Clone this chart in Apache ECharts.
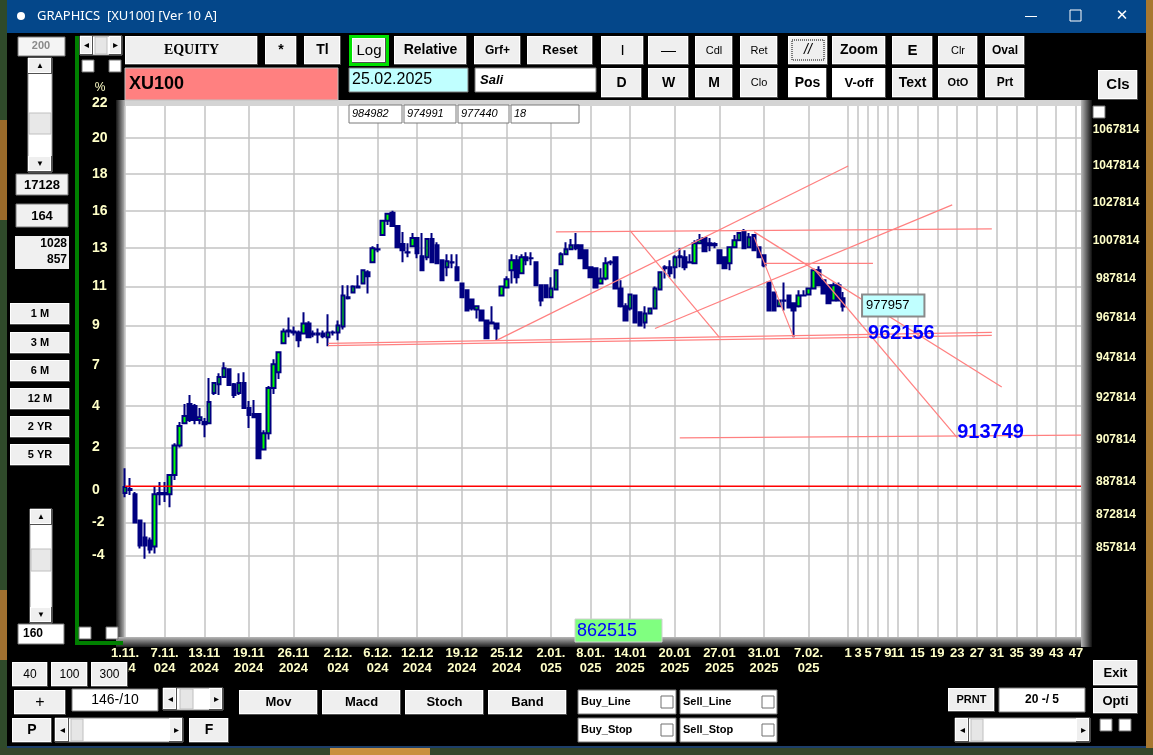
<!DOCTYPE html>
<html><head><meta charset="utf-8">
<script src="https://cdn.jsdelivr.net/npm/echarts/dist/echarts.min.js"></script>
<style>html,body{margin:0;padding:0;background:#000;overflow:hidden}#c{width:1153px;height:755px}</style>
</head><body><div id="c"></div>
<script>
// ---------------- DATA ----------------
const barOpen = [886400,888300,885900,873700,866000,864600,861900,886400,886400,885900,
894800,908800,919500,928800,927800,921000,920000,919500,934200,938500,
942000,945900,938500,934200,939000,926800,923900,923900,906900,914600,
936600,944400,958800,965300,964800,964300,963800,968800,963800,963800,
963800,961800,964300,964300,967300,982200,984700,987300,989400,995200,
1000400,1007300,1014800,1022400,1026700,1019700,1010000,1005700,1008900,1013200,
1003600,1003100,1012700,1009400,1001500,997800,1000400,997800,989400,985800,
981100,976000,975500,970400,968800,968800,983200,987300,996200,1001500,
994700,1003100,1002600,1000400,988400,988400,982200,986300,999400,1004700,
1007300,1009400,1009400,1006800,997800,997300,989400,992000,1000400,1003100,
986800,977600,976500,983200,974500,969300,973900,976500,986300,997800,
997800,997800,1003100,1003100,1000400,999900,1010500,1013200,1010500,1010000,
1006800,1003100,999900,1008300,1012100,1016500,1008300,1014800,1008300,1004100,
989900,984700,977600,980600,983200,979100,977600,983200,983700,986800,
996200,991000,988400,980600,988400,981700];
const barClose = [889200,887800,872800,862300,862300,860500,885900,885900,885900,894800,
908800,918100,922900,921000,921000,922400,919000,929800,939000,942000,
946400,938100,933200,939000,926800,923400,922400,902700,914600,936600,
948300,954300,964800,964800,964300,960300,968800,961800,963300,963300,
962300,964300,964200,967800,983200,981700,987800,987800,996200,993100,
1007800,1007200,1022400,1026200,1019700,1008300,1006800,1005600,1013200,1005200,
996200,1012700,1000400,999900,991000,1001000,1000300,991000,982200,975500,
976500,977600,970400,961300,969300,966300,987800,991500,1001500,992600,
1003100,1001500,1002500,988400,980600,982200,986800,996200,1004700,1007300,
1009400,1007800,1002600,997300,992600,987300,992000,999900,1000300,986800,
977600,970400,983700,969300,967800,973900,976500,986800,995200,997300,
994700,1003100,1003600,997800,1000300,1010500,1012100,1006200,1009400,1009400,
999900,997300,1008300,1012100,1015900,1007800,1013700,1006800,1003100,998900,
975500,975500,980600,980500,977000,975500,983200,983100,986800,996200,
988400,984200,979100,988400,980600,977440];
const barLow = [884500,885500,872400,861000,856400,858700,858700,880800,882200,879800,
892500,907800,919000,920000,919000,919000,912700,919000,933200,933200,
941500,937600,931700,933200,926600,917100,922200,902500,906700,911700,
933700,941000,958300,961800,962800,956800,963300,961600,961800,958800,
961300,957300,962800,960300,965800,981100,984500,986800,989200,984200,
1000200,1005700,1014600,1020200,1019200,1007800,1000400,1003100,1008300,1002600,
996000,1001500,1000200,999700,990800,993100,997300,990800,982000,975300,
975500,971400,970200,961100,968600,960300,983000,987100,989400,989400,
994500,998900,998900,988200,977600,981700,982000,986100,998900,1004100,
1006800,1006800,1002400,997100,992400,987100,989200,991000,998900,986600,
977000,970200,975500,969100,967600,966300,973500,976300,986100,992000,
992600,992000,997800,996200,999900,999700,1010300,1006000,1006200,1007800,
999700,997100,996200,1007800,1011600,1007600,1007800,1006600,1002900,997800,
975300,975300,977400,975500,976800,961800,977000,982700,983200,986600,
988200,984000,978900,980400,980400,974991];
const barHigh = [898000,893400,886900,874000,872800,866000,889200,891500,891500,895000,
909800,920000,928800,933200,928800,926800,922000,941500,939200,943900,
949300,946400,939000,943900,944400,930200,930700,924400,916100,937600,
950800,954500,966300,971900,967300,965300,974500,969900,965300,966300,
965300,973500,965300,970400,988400,988400,988400,993600,996400,996200,
1008900,1010000,1022900,1026700,1027800,1020200,1016500,1010500,1015900,1013400,
1015900,1012900,1015900,1011000,1001700,1004700,1004700,1004700,989600,986000,
981300,977800,975700,970600,977600,969000,988000,993100,1004700,1004100,
1004700,1005700,1005700,1000600,988600,988600,992600,996400,1005700,1011000,
1012700,1015900,1009600,1007000,998000,997500,997300,1003100,1001500,1003300,
991000,979100,984200,983400,974700,977600,976700,987800,995400,998900,
1001500,1004100,1007800,1006800,1004700,1012100,1015400,1013400,1013200,1011000,
1007000,1003300,1008500,1014800,1016500,1018100,1015900,1015000,1008500,1004300,
990100,984900,980800,989900,983400,979300,985800,985800,987000,996400,
998300,991200,988600,989900,989900,984982];

const slotCount = 194;
const labelIndex = [0,8,16,25,34,43,51,59,68,77,86,94,102,111,120,129,138,
  146,148,150,152,154,156,160,164,168,172,176,180,184,188,192];
const labelText = ['1.11.\n024','7.11.\n024','13.11\n2024','19.11\n2024','26.11\n2024','2.12.\n024',
  '6.12.\n024','12.12\n2024','19.12\n2024','25.12\n2024','2.01.\n025','8.01.\n025','14.01\n2025',
  '20.01\n2025','27.01\n2025','31.01\n2025','7.02.\n025',
  '1','3','5','7','9','11','15','19','23','27','31','35','39','43','47'];

const gridValues = [1067814,1047814,1027814,1007814,987814,967814,947814,927814,907814,887814,872814,857814];
const pctLabels = ['20','18','16','13','11','9','7','4','2','0','-2','-4'];

const trendLines = [
  [[41,958800],[175,964300]],
  [[41,957600],[175,962800]],
  [[75,960300],[146,1052200]],
  [[107,966300],[167,1031000]],
  [[87,1016500],[175,1018100]],
  [[129,999900],[151,999900]],
  [[102,1017000],[120,961800]],
  [[127,1013700],[135,961800]],
  [[127,1016500],[177,937100]],
  [[139,997300],[168,912500]],
  [[112,912400],[193,913700]]
];
const zeroLine = 889600;
const lineLabels = [[150,962156],[168,913749]];
const cursorValue = [149,977957];

// ---------------- BUILD ----------------
const categories = Array.from({length: slotCount}, (_, i) => String(i));
const labelMap = {};
labelIndex.forEach((k, j) => { labelMap[k] = labelText[j]; });
const candleData = barOpen.map((o, i) => [o, barClose[i], barLow[i], barHigh[i]]);

const SANS = '"Liberation Sans", Arial, sans-serif';
const G = [];
function R(x,y,w,h,fill,stroke,lw,z){G.push({type:'rect',silent:true,z:z==null?100:z,shape:{x:x,y:y,width:w,height:h},style:{fill:fill,stroke:stroke||null,lineWidth:lw||0}});}
function T(x,y,s,font,color,align,z){G.push({type:'text',silent:true,z:z==null?101:z,x:x,y:y,style:{text:s,font:font,fill:color||'#000',align:align||'center',verticalAlign:'middle'}});}
function B(x,y,w,h,s,font,fill,color){R(x,y,w,h,'#505050');R(x,y,w-1,h-1,'#ffffff');R(x+1,y+1,w-3,h-3,fill||'#efefef');if(s!=null)T(x+w/2,y+h/2,s,font||('bold 13px '+SANS),color);}
function BOX(x,y,w,h,fill){R(x,y,w,h,fill,'#7a7a7a',1);}
function CB(x,y){R(x,y,12,12,'#ffffff','#707070',1);}
function grad(horizontal,c1,c2){return {type:'linear',x:0,y:0,x2:horizontal?1:0,y2:horizontal?0:1,colorStops:[{offset:0,color:c1},{offset:1,color:c2}]};}

// wallpaper + window chrome
R(0,0,7,755,'#2f4a2a',null,0,-20);
R(0,120,7,100,'#9a6a2a',null,0,-19); R(0,590,7,70,'#a07030',null,0,-19);
R(1146,0,7,755,'#a87830',null,0,-20);
R(0,748,1153,7,'#34462a',null,0,-20); R(330,748,100,7,'#c89040',null,0,-19);
R(7,0,1139,33,'#04478a',null,0,-18);
R(7,746,1139,2,'#1d3f6a',null,0,-18);
G.push({type:'circle',silent:true,z:101,shape:{cx:21,cy:16,r:4},style:{fill:'#fff'}});
T(37,16,'GRAPHICS  [XU100] [Ver 10 A]','13px "Noto Sans", "DejaVu Sans", sans-serif','#ffffff','left');
R(1025,16,12,1,'#ffffff'); R(1070,10,11,11,null,'#ffffff',1);
T(1122,16,'✕','15px "DejaVu Sans"','#ffffff');

// plot bevel
R(116,100,976,547,'#9c9c9c',null,0,-10);
R(116,100,976,6,'#d4d4d4',null,0,-9);
R(116,100,9,547,grad(true,'#151515','#b8b8b8'),null,0,-9);
R(116,637,976,10,grad(false,'#b8b8b8','#202020'),null,0,-9);
R(1081,100,11,547,grad(true,'#b8b8b8','#101010'),null,0,-9);

// left column
BOX(18,37,47,19,'#f4f4f4'); T(41,46,'200','bold 11px '+SANS,'#8a8a8a');
R(28,58,24,114,'#ffffff','#9a9a9a',1); B(28,58,24,16,'▲','8px '+SANS); B(28,156,24,16,'▼','8px '+SANS); R(29,113,22,21,'#e8e8e8','#c0c0c0',1);
BOX(16,174,52,21,'#f0f0f0'); T(42,185,'17128','bold 13px '+SANS);
BOX(16,204,52,23,'#f0f0f0'); T(42,216,'164','bold 13px '+SANS);
R(15,236,54,33,'#f0f0f0'); T(67,244,'1028','bold 12px '+SANS,'#000','right'); T(67,260,'857','bold 12px '+SANS,'#000','right');
[['1 M',303],['3 M',332],['6 M',360],['12 M',388],['2 YR',416],['5 YR',444]].forEach(a=>B(10,a[1],60,22,a[0],'bold 11px '+SANS));
R(30,509,22,114,'#ffffff','#9a9a9a',1); B(30,509,22,16,'▲','8px '+SANS); B(30,607,22,16,'▼','8px '+SANS); R(31,549,20,22,'#e8e8e8','#c0c0c0',1);
BOX(18,624,46,20,'#ffffff'); T(23,634,'160','bold 12px '+SANS,'#000','left');
R(75,36,4,609,'#008000'); R(75,641,48,4,'#008000');
CB(79,627); CB(106,627);
R(80,36,42,19,'#ffffff','#8a8a8a',1); B(80,36,13,19,'◂','10px '+SANS); B(109,36,13,19,'▸','10px '+SANS); R(95,37,12,17,'#e6e6e6','#c0c0c0',1);
CB(82,60); CB(109,60);
T(100,88,'%','12px '+SANS,'#ffffc8'); T(92,103,'22','bold 14px '+SANS,'#ffffc8','left');

// top row buttons
B(125,36,133,29,'EQUITY','bold 14px "Liberation Serif", serif');
B(265,36,32,29,'*','bold 14px '+SANS);
B(304,36,37,29,'Tl','bold 14px '+SANS);
R(349,35,40,31,'#00e000'); B(352,38,34,25,'Log','15px '+SANS);
B(394,36,73,29,'Relative','bold 14px '+SANS);
B(474,36,47,29,'Grf+','bold 12px '+SANS);
B(527,36,66,29,'Reset','bold 13px '+SANS);
B(601,36,43,29,'I','15px '+SANS);
B(648,36,41,29,'—','15px '+SANS);
B(695,36,38,29,'Cdl','11px '+SANS);
B(740,36,38,29,'Ret','11px '+SANS);
B(788,36,40,29,'//','italic 14px '+SANS);
G.push({type:'rect',silent:true,z:101,shape:{x:792,y:40,width:32,height:20},style:{fill:null,stroke:'#000',lineWidth:1,lineDash:[1,1]}});
B(832,36,54,29,'Zoom','bold 14px '+SANS);
B(892,36,41,29,'E','bold 15px '+SANS);
B(938,36,40,29,'Clr','11px '+SANS);
B(985,36,40,29,'Oval','bold 12px '+SANS);
// second row
R(125,68,213,32,'#ff8080','#c0c0c0',1); T(129,84,'XU100','bold 18px '+SANS,'#000','left');
BOX(349,68,119,24,'#c0ffff'); T(352,80,'25.02.2025','16px '+SANS,'#000','left');
BOX(475,68,121,24,'#ffffff'); T(480,80,'Sali','italic bold 13px '+SANS,'#000','left');
B(601,68,41,30,'D','bold 14px '+SANS);
B(648,68,41,30,'W','bold 14px '+SANS);
B(695,68,38,30,'M','bold 14px '+SANS);
B(740,68,38,30,'Clo','11px '+SANS);
B(788,68,39,30,'Pos','bold 14px '+SANS,'#ffffff');
B(832,68,54,30,'V-off','bold 13px '+SANS,'#ffffff');
B(892,68,41,30,'Text','bold 14px '+SANS);
B(938,68,40,30,'OtO','bold 11px '+SANS);
B(985,68,40,30,'Prt','bold 12px '+SANS);
B(1098,70,40,30,'Cls','bold 15px '+SANS);
[['984982',349,53],['974991',404,52],['977440',458,51],['18',511,68]].forEach(a=>{BOX(a[1],105,a[2],18,'#ffffff');T(a[1]+3,114,a[0],'italic 11px '+SANS,'#000','left');});
CB(1093,106);

// bottom controls
B(12,662,36,25,'40','12px '+SANS); B(51,662,37,25,'100','12px '+SANS); B(91,662,37,25,'300','12px '+SANS);
B(14,690,52,25,'+','16px '+SANS);
BOX(72,689,86,22,'#ffffff'); T(115,700,'146-/10','14px '+SANS);
R(163,688,60,22,'#ffffff','#8a8a8a',1); B(163,688,14,22,'◂','10px '+SANS); B(209,688,14,22,'▸','10px '+SANS); R(180,689,13,20,'#e6e6e6','#c0c0c0',1);
B(239,690,79,25,'Mov','bold 13px '+SANS); B(322,690,79,25,'Macd','bold 13px '+SANS);
B(405,690,79,25,'Stoch','bold 13px '+SANS); B(488,690,79,25,'Band','bold 13px '+SANS);
[['Buy_Line',578,690,98],['Sell_Line',680,690,97],['Buy_Stop',578,718,98],['Sell_Stop',680,718,97]].forEach(a=>{BOX(a[1],a[2],a[3],24,'#ffffff');T(a[1]+3,a[2]+12,a[0],'bold 11px '+SANS,'#000','left');CB(a[1]+a[3]-15,a[2]+6);});
B(12,718,40,25,'P','bold 14px '+SANS);
R(55,718,128,24,'#ffffff','#8a8a8a',1); B(55,718,14,24,'◂','10px '+SANS); B(169,718,14,24,'▸','10px '+SANS); R(71,719,12,22,'#e6e6e6','#c0c0c0',1);
B(189,718,40,25,'F','bold 14px '+SANS);
B(948,688,47,24,'PRNT','bold 11px '+SANS);
BOX(999,688,86,24,'#ffffff'); T(1042,700,'20 -/ 5','bold 12px '+SANS);
B(1093,660,45,26,'Exit','bold 13px '+SANS); B(1093,688,45,26,'Opti','bold 13px '+SANS);
CB(1100,719); CB(1119,719);
R(955,718,135,24,'#ffffff','#8a8a8a',1); B(955,718,14,24,'◂','10px '+SANS); B(1076,718,14,24,'▸','10px '+SANS); R(971,719,12,22,'#e6e6e6','#c0c0c0',1);
R(575,619,87,23,'#80ff80','#d0d0d0',1); T(577,631,'862515','18px '+SANS,'#0000ff','left');

// ---------------- CHART ----------------
const yLabelCommon = {show:true,color:'#ffffc8',fontWeight:'bold',fontFamily:SANS};
const series = [
  {type:'line',data:[[0,887814]],symbol:'none',silent:true,z:1,lineStyle:{opacity:0},
   markLine:{silent:true,z:1,symbol:['none','none'],animation:false,
     lineStyle:{color:'#c3c3c3',width:1.5,type:'solid'},
     label:Object.assign({position:'end',distance:35,align:'center',verticalAlign:'bottom',fontSize:12,padding:[0,0,2,0]},yLabelCommon),
     data:gridValues.map(v=>({yAxis:v,label:{formatter:String(v)}}))}},
  {type:'line',data:[[0,887814]],symbol:'none',silent:true,z:1,lineStyle:{opacity:0},
   markLine:{silent:true,z:1,symbol:['none','none'],animation:false,
     lineStyle:{color:'rgba(0,0,0,0)',width:1,type:'solid'},
     label:Object.assign({position:'start',distance:33,align:'left',fontSize:14},yLabelCommon),
     data:gridValues.map((v,k)=>({yAxis:v,label:{formatter:pctLabels[k]}}))}},
  {type:'candlestick',data:candleData,z:3,barWidth:4,silent:true,
   itemStyle:{color:'#00ff00',color0:'#000080',borderColor:'#000080',borderColor0:'#000080',borderColorDoji:'#000080',borderWidth:2}}
];
trendLines.forEach(seg=>series.push({type:'line',data:seg,symbol:'none',silent:true,z:4,lineStyle:{color:'#ff8080',width:1.2}}));
series.push({type:'line',data:[[0,zeroLine],[slotCount-1,zeroLine]],symbol:'none',silent:true,z:4,lineStyle:{color:'#ff0000',width:1.5}});
series.push({type:'line',data:[[0,887814]],symbol:'none',silent:true,z:6,lineStyle:{opacity:0},
  markPoint:{symbol:'circle',symbolSize:0,silent:true,z:6,animation:false,data:[
    {coord:lineLabels[0],label:{show:true,position:'right',distance:0,formatter:String(lineLabels[0][1]),color:'#0000ff',fontWeight:'bold',fontSize:20,fontFamily:SANS,offset:[0,-3]}},
    {coord:lineLabels[1],label:{show:true,position:'right',distance:0,formatter:String(lineLabels[1][1]),color:'#0000ff',fontWeight:'bold',fontSize:20,fontFamily:SANS,offset:[0,-3]}},
    {coord:cursorValue,label:{show:true,position:'right',distance:0,formatter:String(cursorValue[1]),color:'#000',fontSize:13,fontFamily:SANS,backgroundColor:'#c0ffff',borderColor:'#8a8a8a',borderWidth:2,padding:[4,14,3,3]}}
  ]}});

const chart = echarts.init(document.getElementById('c'));
chart.setOption({
  backgroundColor:'#000000',
  animation:false,
  textStyle:{fontFamily:SANS},
  grid:{left:125,top:106,width:956,height:531,show:true,backgroundColor:'#ffffff',borderWidth:0,containLabel:false},
  xAxis:{type:'category',data:categories,boundaryGap:false,
    axisLine:{show:false},axisTick:{show:false},
    axisLabel:{interval:(i)=>labelMap[i]!==undefined,formatter:(v,i)=>labelMap[i]||'',hideOverlap:false,
      color:'#ffffc8',fontWeight:'bold',fontSize:13,lineHeight:15,margin:9,fontFamily:SANS},
    splitLine:{show:true,interval:(i)=>labelMap[i]!==undefined,lineStyle:{color:'#c3c3c3',width:1.5}}},
  yAxis:{type:'log',logBase:10,min:821956,max:1085860,
    axisLine:{show:false},axisTick:{show:false},axisLabel:{show:false},splitLine:{show:false}},
  graphic:{elements:G},
  series:series
});
</script></body></html>
